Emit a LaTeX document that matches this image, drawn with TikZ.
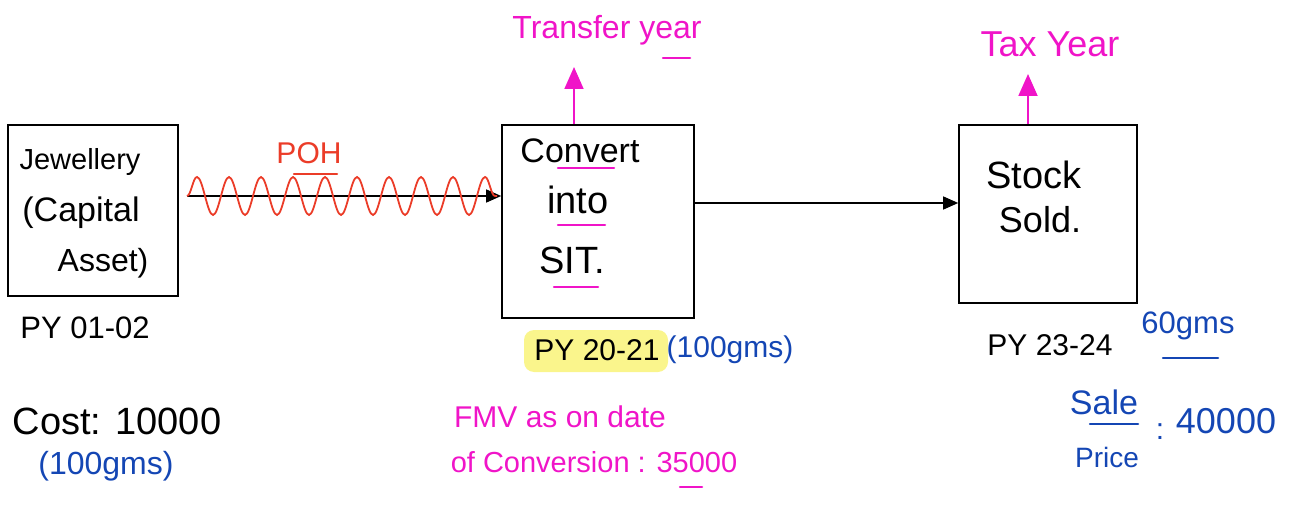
\documentclass[tikz,border=0pt]{standalone}
\usepackage{fontspec}
\setmainfont{Liberation Sans}
\usetikzlibrary{arrows.meta,decorations.pathmorphing}
\definecolor{mag}{RGB}{240,20,200}
\definecolor{pen}{RGB}{20,70,180}
\definecolor{redpen}{RGB}{235,60,40}
\definecolor{hl}{RGB}{250,245,140}
\tikzset{
  boxy/.style={draw=black,line width=1.6pt,inner sep=0pt},
  fsz/.style={font=\fontsize{#1}{#1}\selectfont},
  hw/.style={fsz=30,text=black,inner sep=1pt},
  hwm/.style={hw,text=mag},
  hwb/.style={hw,text=pen},
  hwr/.style={hw,text=redpen},
  arr/.style={line width=1.4pt,-{Triangle[length=15pt,width=13pt]}},
  marr/.style={line width=1.8pt,draw=mag,fill=mag,-{Triangle[length=22pt,width=19pt]}},
  uline/.style={draw=mag,line width=2.5pt,line cap=round},
}
\begin{document}
\begin{tikzpicture}[x=1pt,y=-1pt]
\useasboundingbox (0,0) rectangle (1294,516);
% boxes
\node[boxy,minimum width=170pt,minimum height=171pt] (b1) at (93,210.5) {};
\node[boxy,minimum width=192pt,minimum height=193pt] (b2) at (598,221.5) {};
\node[boxy,minimum width=178pt,minimum height=178pt] (b3) at (1048,214) {};
% box texts
\node[hw,fsz=29] (t1a) at (80,162) {Jewellery};
\node[hw,fsz=34] (t1b) at (81,213) {(Capital};
\node[hw,fsz=32] (t1c) at (103,263) {Asset)};
\node[hw,fsz=34] (t2a) at (580,151) {Convert};
\node[hw,fsz=38] (t2b) at (578,200) {into};
\node[hw,fsz=38] (t2c) at (572,260) {SIT.};
\node[hw,fsz=38] (t3a) at (1034,175) {Stock};
\node[hw,fsz=36] (t3b) at (1040,220) {Sold.};
% magenta underlines in box 2
\coordinate (u1a) at (558,168); \coordinate (u1b) at (614,168);
\coordinate (u2a) at (558,225); \coordinate (u2b) at (605,225);
\coordinate (u3a) at (554,287); \coordinate (u3b) at (598,287);
\draw[uline] (u1a) -- (u1b);
\draw[uline] (u2a) -- (u2b);
\draw[uline] (u3a) -- (u3b);
% connectors
\coordinate (w1) at (187,196);
\coordinate (w2) at (b2.west |- w1);
\draw[arr] (w1) -- (w2);
\draw[redpen,line width=1.8pt,decorate,decoration={snake,segment length=32pt,amplitude=19pt}] (w1) -- ([xshift=-4pt]w2);
\node[hwr] (poh) at (309,153) {POH};
\coordinate (pu1) at (294,174); \coordinate (pu2) at (337,174);
\draw[uline,draw=redpen] (pu1) -- (pu2);
\coordinate (c2) at (b2.east |- 0,203);
\draw[arr] (c2) -- (b3.west |- c2);
% magenta up arrows
\node[hwm,fsz=32] (ty) at (607,30) {Transfer year};
\coordinate (tyu1) at (663,58); \coordinate (tyu2) at (690,58);
\draw[uline] (tyu1) -- (tyu2);
\draw[marr] (b2.north -| 574,0) -- (574,67);
\node[hwm,fsz=36] (tx) at (1050,44) {Tax Year};
\draw[marr] (b3.north -| 1028,0) -- (1028,74);
% labels below
\node[hw,fsz=31] (py1) at (85,328) {PY 01-02};
\node[hw,fsz=38] (cost) at (117,421) {Cost: 10000};
\node[hwb,fsz=32] (g1) at (106,466) {(100gms)};
\fill[hl,rounded corners=10pt] (524,330) rectangle (668,372);
\node[hw] (py2) at (597,350) {PY 20-21};
\node[hwb] (g2) at (730,350) {(100gms)};
\node[hwm] (fmv1) at (560,417) {FMV as on date};
\node[hwm,fsz=29] (fmv2) at (594,462) {of Conversion : 35000};
\coordinate (fu1) at (680,487); \coordinate (fu2) at (702,487);
\draw[uline] (fu1) -- (fu2);
\node[hw] (py3) at (1050,345) {PY 23-24};
\node[hwb,fsz=31] (g3) at (1188,326) {60gms};
\coordinate (gu1) at (1163,358); \coordinate (gu2) at (1218,358);
\draw[uline,draw=pen] (gu1) -- (gu2);
\node[hwb,fsz=34] (sale) at (1104,402) {Sale};
\coordinate (su1) at (1090,424); \coordinate (su2) at (1138,424);
\draw[uline,draw=pen] (su1) -- (su2);
\node[hwb,fsz=28] (price) at (1107,457) {Price};
\node[hwb] (colon) at (1160,432) {:};
\node[hwb,fsz=36] (amt) at (1226,421) {40000};
\end{tikzpicture}
\end{document}
